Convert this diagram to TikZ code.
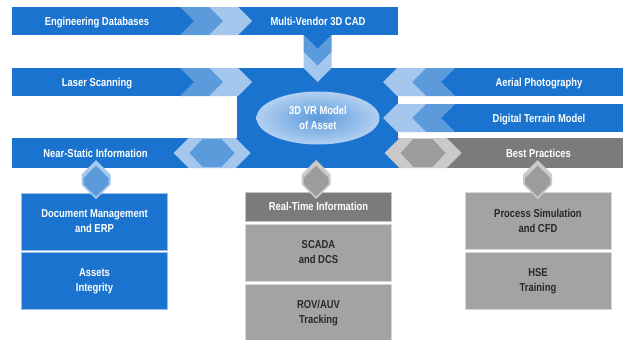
\documentclass[tikz,border=0pt]{standalone}
\usepackage{fontspec}
\setmainfont{Liberation Sans}[FakeStretch=0.82]
\usetikzlibrary{shapes.geometric,positioning}
\definecolor{vrblue}{RGB}{26,115,207}
\definecolor{vrmid}{RGB}{92,155,219}
\definecolor{vrlight}{RGB}{165,199,238}
\definecolor{vrdark}{RGB}{123,123,123}
\definecolor{vrgrey}{RGB}{163,163,163}
\definecolor{vrpale}{RGB}{202,202,202}
\definecolor{vrmidgrey}{RGB}{156,156,156}
\definecolor{vrink}{RGB}{40,40,40}
\tikzset{
  lbl/.style={text=white,font=\bfseries\fontsize{11.5}{15}\selectfont,align=center,
    inner sep=0pt,text height=8.2pt,text depth=0pt},
  cell/.style={fill=#1,draw=white!55!#1,line width=0.6pt,minimum width=146pt,
    minimum height=57pt,inner sep=0pt,align=center,font=\bfseries\fontsize{11.5}{15}\selectfont},
  cell/.default=vrgrey,
  % chevrons and hexagons
  pics/chev/.style n args={2}{code={
    \fill[#1] (0,-14) -- (#2,-14) -- (#2+14,0) -- (#2,14) -- (0,14) -- (14,0) -- cycle;
  }},
  pics/hexa/.style n args={4}{code={
    \fill[#1] (-#2-#3,0) -- (-#2,-#4) -- (#2,-#4) -- (#2+#3,0) -- (#2,#4) -- (-#2,#4) -- cycle;
  }},
}
\begin{document}
\begin{tikzpicture}[x=1pt,y=-1pt]
  \useasboundingbox[fill=white] (0,0) rectangle (625,340);
  \fill[vrblue] (12,7) rectangle (398,35);
  \fill[vrblue] (12,68) rectangle (237,96);
  \fill[vrblue] (237,68) rectangle (398,168);
  \fill[vrblue] (398,68) rectangle (623,96);
  \fill[vrblue] (398,104) rectangle (623,132);
  \fill[vrblue] (12,138) rectangle (237,168);
  \fill[vrdark] (398,138) rectangle (623,168);
  \fill[vrblue] (303.5,35) -- (331.5,35) -- (317.5,49) -- cycle;
  \foreach \y in {21,82}{
    \pic at (180,\y) {chev={vrmid}{29}};
    \pic at (209,\y) {chev={vrlight}{29}};
  }
  \foreach \y in {82,118}{
    \pic[rotate=180] at (455,\y) {chev={vrmid}{29}};
    \pic[rotate=180] at (426,\y) {chev={vrlight}{29}};
  }
  \pic[rotate=-90] at (317.5,35) {chev={vrmid}{17}};
  \pic[rotate=-90] at (317.5,52) {chev={vrlight}{16}};
  \pic at (212,153) {hexa={vrlight}{23.5}{15}{15}};
  \pic at (212,153) {hexa={vrmid}{9.5}{13}{14}};
  \pic at (423,153) {hexa={vrpale}{23.5}{15}{15}};
  \pic at (423,153) {hexa={vrmidgrey}{9.5}{13}{14}};

  \node[ellipse,minimum width=123pt,minimum height=53pt,inner color=vrmid,
    outer color=vrlight!85!white,text=white,font=\bfseries\fontsize{11.5}{15}\selectfont,
    align=center,inner sep=0pt] (hub) at (318,118) {3D VR Model\\of Asset};

  \node[cell=vrblue,text=white] (docerp) at (94.5,221.5) {Document Management\\and ERP};
  \node[cell=vrblue,text=white] (assets) at (94.5,281) {Assets\\Integrity};
  \node[cell=vrdark,minimum height=29pt,text=white] (rtinfo) at (318.5,206.5) {Real-Time Information};
  \node[cell,text=vrink] (scada) at (318.5,252.5) {SCADA\\and DCS};
  \node[cell,minimum height=58pt,text=vrink] (rov) at (318.5,313) {ROV/AUV\\Tracking};
  \node[cell,text=vrink] (procsim) at (538,221) {Process Simulation\\and CFD};
  \node[cell,text=vrink] (hse) at (538,281) {HSE\\Training};

  \foreach \x/\c/\d in {96/vrlight/vrmid,316/vrpale/vrmidgrey,537.5/vrpale/vrmidgrey}{
    \pic[rotate=90] at (\x,179.5) {hexa={\c}{5}{14.5}{14.5}};
    \pic[rotate=90] at (\x,181) {hexa={\d}{3}{12.5}{12.5}};
  }

  \node[lbl] (engdb) at (97,21) {Engineering Databases};
  \node[lbl] (cad) at (318,21) {Multi-Vendor 3D CAD};
  \node[lbl] (laser) at (97,82) {Laser Scanning};
  \node[lbl] (aerial) at (539,82) {Aerial Photography};
  \node[lbl] (dtm) at (539,118) {Digital Terrain Model};
  \node[lbl] (nearstatic) at (95.5,153) {Near-Static Information};
  \node[lbl] (bestpr) at (538.5,153) {Best Practices};
\end{tikzpicture}
\end{document}
